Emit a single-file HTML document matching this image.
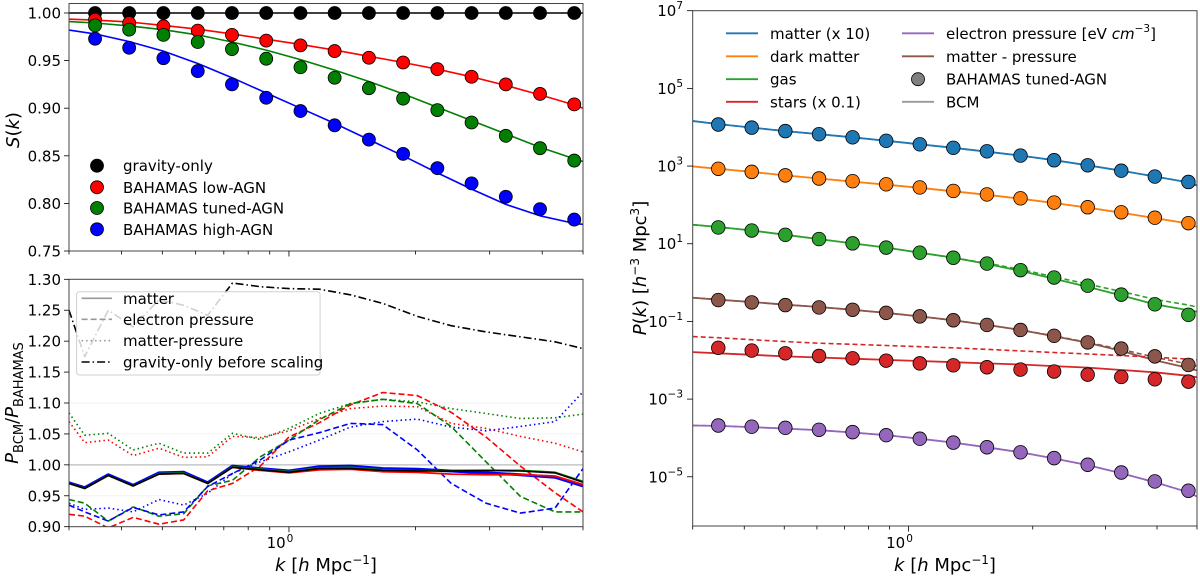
<!DOCTYPE html>
<html><head><meta charset="utf-8"><style>
html,body{margin:0;padding:0;background:#fff;}
svg{display:block;font-family:"DejaVu Sans","Liberation Sans",sans-serif;}
</style></head><body>
<svg id="fig" width="1200" height="579" viewBox="0 0 1200 579" xmlns="http://www.w3.org/2000/svg"></svg>
<script>
// ---------- data ----------
const kVals = [0.346,0.417,0.503,0.607,0.732,0.883,1.065,1.284,1.549,1.868,2.253,2.717,3.277,3.952,4.766];
const sRed   = [0.993,0.9895,0.986,0.9815,0.977,0.971,0.966,0.960,0.953,0.948,0.941,0.933,0.925,0.915,0.904];
const sGreen = [0.987,0.9825,0.977,0.9695,0.962,0.952,0.943,0.932,0.921,0.910,0.898,0.885,0.871,0.858,0.845];
const sBlue  = [0.973,0.9635,0.9525,0.939,0.925,0.911,0.897,0.882,0.867,0.852,0.837,0.821,0.807,0.794,0.783];
const lineK = [0.3,0.346,0.417,0.503,0.607,0.732,0.883,1.065,1.284,1.549,1.868,2.253,2.717,3.277,3.952,4.766,5.0];
const fitRed   = [0.9935,0.9925,0.9905,0.987,0.983,0.978,0.9725,0.967,0.961,0.9545,0.948,0.941,0.933,0.924,0.914,0.9035,0.900];
const fitGreen = [0.991,0.9895,0.9865,0.9825,0.977,0.9695,0.961,0.951,0.940,0.928,0.915,0.901,0.887,0.873,0.859,0.847,0.844];
const fitBlue  = [0.982,0.978,0.970,0.960,0.947,0.932,0.916,0.900,0.884,0.867,0.850,0.832,0.815,0.799,0.787,0.779,0.778];

const binK = [0.300,0.327,0.372,0.426,0.491,0.562,0.641,0.734,0.855,1.0,1.18,1.40,1.67,2.02,2.43,2.94,3.55,4.29,5.0];
const rBlackSolid = [0.970,0.962,0.983,0.966,0.985,0.986,0.970,0.996,0.992,0.988,0.994,0.994,0.991,0.990,0.990,0.991,0.990,0.987,0.972];
const rBlueSolid  = [0.971,0.963,0.984,0.967,0.987,0.988,0.971,0.998,0.994,0.990,0.997,0.998,0.994,0.993,0.990,0.987,0.984,0.980,0.966];
const rRedSolid   = [0.970,0.962,0.983,0.966,0.985,0.986,0.970,0.996,0.991,0.987,0.992,0.993,0.989,0.988,0.985,0.984,0.984,0.982,0.968];
const rGreenSolid = [0.970,0.962,0.983,0.966,0.986,0.987,0.970,0.997,0.993,0.989,0.995,0.996,0.992,0.990,0.991,0.991,0.991,0.988,0.973];
const rRedDash   = [0.920,0.917,0.898,0.915,0.904,0.911,0.958,0.970,0.998,1.045,1.068,1.097,1.117,1.112,1.085,1.045,0.998,0.955,0.924];
const rGreenDash = [0.944,0.938,0.909,0.932,0.917,0.921,0.966,0.975,1.013,1.040,1.073,1.099,1.106,1.099,1.062,1.005,0.949,0.924,0.924];
const rBlueDash  = [0.935,0.924,0.909,0.931,0.919,0.924,0.965,0.986,1.008,1.040,1.052,1.067,1.065,1.024,0.970,0.938,0.922,0.930,0.994];
const rGreenDot  = [1.084,1.048,1.051,1.024,1.035,1.019,1.019,1.051,1.041,1.059,1.083,1.099,1.106,1.102,1.091,1.083,1.075,1.076,1.082];
const rRedDot    = [1.070,1.036,1.040,1.015,1.027,1.012,1.013,1.046,1.044,1.055,1.075,1.091,1.095,1.094,1.067,1.059,1.046,1.035,1.021];
const rBlueDot   = [0.938,0.928,0.930,0.924,0.944,0.935,0.954,0.986,1.005,1.021,1.040,1.061,1.070,1.074,1.061,1.055,1.062,1.070,1.118];
const rGravBefore= [1.250,1.175,1.250,1.223,1.267,1.258,1.242,1.294,1.288,1.285,1.284,1.275,1.261,1.240,1.225,1.215,1.207,1.199,1.188];

// right panel, log10 P(k)
const pMatter = [4.07,3.99,3.90,3.82,3.74,3.65,3.56,3.47,3.38,3.27,3.15,3.02,2.88,2.73,2.59];
const pDM     = [2.93,2.85,2.76,2.68,2.61,2.53,2.45,2.36,2.27,2.17,2.06,1.94,1.81,1.67,1.53];
const pGas    = [1.42,1.34,1.23,1.12,1.01,0.90,0.77,0.64,0.49,0.32,0.13,-0.08,-0.31,-0.56,-0.83];
const pMP     = [-0.45,-0.51,-0.58,-0.64,-0.70,-0.78,-0.87,-0.97,-1.09,-1.22,-1.37,-1.54,-1.70,-1.90,-2.12];
const pStars  = [-1.68,-1.75,-1.82,-1.89,-1.95,-2.01,-2.08,-2.13,-2.18,-2.24,-2.29,-2.37,-2.43,-2.49,-2.55];
const pPress  = [-3.68,-3.71,-3.74,-3.79,-3.85,-3.93,-4.02,-4.12,-4.24,-4.37,-4.52,-4.69,-4.89,-5.12,-5.36];
const bMatter = [4.16,4.08,3.99,3.90,3.82,3.74,3.65,3.56,3.47,3.37,3.27,3.15,3.02,2.88,2.73,2.58,2.50];
const bDM     = [2.99,2.93,2.85,2.76,2.68,2.60,2.52,2.44,2.35,2.26,2.16,2.05,1.93,1.80,1.66,1.52,1.43];
const bGas    = [1.49,1.43,1.34,1.23,1.12,1.01,0.90,0.77,0.64,0.48,0.30,0.10,-0.11,-0.33,-0.56,-0.71,-0.75];
const bGasDash= [1.49,1.43,1.34,1.23,1.12,1.01,0.90,0.77,0.64,0.50,0.34,0.15,-0.04,-0.23,-0.43,-0.58,-0.63];
const bMP     = [-0.39,-0.44,-0.50,-0.57,-0.63,-0.70,-0.78,-0.87,-0.97,-1.09,-1.22,-1.38,-1.55,-1.76,-2.00,-2.20,-2.26];
const bMPDash = [-0.39,-0.44,-0.50,-0.57,-0.63,-0.70,-0.78,-0.87,-0.97,-1.09,-1.22,-1.37,-1.54,-1.72,-1.92,-2.10,-2.15];
const bStars  = [-1.79,-1.82,-1.86,-1.90,-1.93,-1.96,-1.99,-2.02,-2.05,-2.08,-2.11,-2.15,-2.19,-2.25,-2.31,-2.40,-2.44];
const bStarsDash=[-1.39,-1.42,-1.47,-1.52,-1.56,-1.59,-1.62,-1.65,-1.68,-1.72,-1.76,-1.80,-1.84,-1.88,-1.92,-1.97,-1.99];
const bPress  = [-3.68,-3.69,-3.72,-3.76,-3.80,-3.86,-3.93,-4.02,-4.12,-4.24,-4.37,-4.53,-4.70,-4.91,-5.14,-5.40,-5.51];

const leftYTicks = ["0.75","0.80","0.85","0.90","0.95","1.00"];
const bottomYTicks = ["0.90","0.95","1.00","1.05","1.10","1.15","1.20","1.25","1.30"];
const rightYTickExp = [7,5,3,1,-1,-3,-5];

// ---------- helpers ----------
const NS="http://www.w3.org/2000/svg";
const svg=document.getElementById('fig');
function mk(tag,attrs,parent){const e=document.createElementNS(NS,tag);for(const k in attrs)e.setAttribute(k,attrs[k]);(parent||svg).appendChild(e);return e;}
const KMIN=0.3,KMAX=5.0;
function xScale(x0,x1){return k=>x0+(Math.log10(k)-Math.log10(KMIN))/(Math.log10(KMAX)-Math.log10(KMIN))*(x1-x0);}
const xL=xScale(69,583), xR=xScale(692.7,1197);
const yTop=v=>251-(v-0.75)*952;
const yBot=v=>526.7-(v-0.90)*618.5;
const yRight=lv=>10.7+(7-lv)*38.84;
function pathD(xs,ys,xf,yf){return xs.map((k,i)=>(i?'L':'M')+xf(k).toFixed(1)+','+yf(ys[i]).toFixed(1)).join(' ');}
function line(xs,ys,xf,yf,color,w,dash,name,g){const p=mk('path',{d:pathD(xs,ys,xf,yf),fill:'none',stroke:color,'stroke-width':w,'stroke-linejoin':'round'},g);if(dash)p.setAttribute('stroke-dasharray',dash);


return p;}
function text(x,y,s,opts,g){const t=mk('text',Object.assign({x:x,y:y,'font-size':15,fill:'#000'},opts||{}),g);t.textContent=s;return t;}

const defs=mk('defs',{});
mk('rect',{x:69,y:0,width:514,height:252},mk('clipPath',{id:'cTop'},defs));
mk('rect',{x:69,y:279,width:514,height:248},mk('clipPath',{id:'cBot'},defs));
mk('rect',{x:693,y:10.7,width:504,height:515.3},mk('clipPath',{id:'cRight'},defs));

function xTicks(xf,yb,labelY){
  const minors=[0.3,0.4,0.5,0.6,0.7,0.8,0.9,2,3,4,5];
  minors.forEach(k=>{const t=mk('line',{x1:xf(k),x2:xf(k),y1:yb,y2:yb+3.5,stroke:'#000','stroke-width':0.8});
    
    });
  const t=mk('line',{x1:xf(1),x2:xf(1),y1:yb,y2:yb+5.5,stroke:'#000','stroke-width':0.8});
  
  
  if(labelY){const l=text(xf(1)-9,labelY,'10',{'text-anchor':'middle'});
    const sup=mk('tspan',{dx:1,dy:-6,'font-size':10.5},l);sup.textContent='0';
    
    }
}
function frame(x,y,w,h,name){const r=mk('rect',{x:x,y:y,width:w,height:h,fill:'none',stroke:'#444','stroke-width':1});
  
  }
function marker(cx,cy,r,fill,name,g){const c=mk('circle',{cx:cx,cy:cy,r:r,fill:fill,stroke:'#000','stroke-width':0.8},g);
  
  }

// ---------- top-left panel ----------
const gTop=mk('g',{'clip-path':'url(#cTop)'});


line([0.3,5],[1,1],xL,yTop,'#000',1.6,null,'gravity-only-line',gTop);
line(lineK,fitRed,xL,yTop,'#ff0000',1.6,null,'low-agn-fit-line',gTop);
line(lineK,fitGreen,xL,yTop,'#008000',1.6,null,'tuned-agn-fit-line',gTop);
line(lineK,fitBlue,xL,yTop,'#0000ff',1.6,null,'high-agn-fit-line',gTop);
kVals.forEach((k,i)=>{
  marker(xL(k),yTop(1.0),6.5,'#000','gravity-only-point',gTop);
  marker(xL(k),yTop(sRed[i]),6.5,'#ff0000','low-agn-point',gTop);
  marker(xL(k),yTop(sGreen[i]),6.5,'#008000','tuned-agn-point',gTop);
  marker(xL(k),yTop(sBlue[i]),6.5,'#0000ff','high-agn-point',gTop);
});
frame(69,3.5,514,247.5,'suppression-axes-frame');
leftYTicks.forEach(s=>{const v=parseFloat(s),y=yTop(v);
  const t=mk('line',{x1:64,x2:69,y1:y,y2:y,stroke:'#000','stroke-width':0.8});
  
  
  const l=text(61,y+5.5,s,{'text-anchor':'end'});
  
  });
xTicks(xL,251,null);
{const l=text(0,0,'',{'font-size':18,transform:'translate(19,130) rotate(-90)','text-anchor':'middle'});
 l.innerHTML='<tspan font-style="italic">S</tspan>(<tspan font-style="italic">k</tspan>)';
 
 }
[['gravity-only','#000'],['BAHAMAS low-AGN','#ff0000'],['BAHAMAS tuned-AGN','#008000'],['BAHAMAS high-AGN','#0000ff']].forEach((e,i)=>{
  const y=[165.7,187.3,208,229.3][i];
  const g=mk('g',{});
  
  
  marker(97,y,6.5,e[1],'legend-marker',g);
  text(123,y+5.5,e[0],{},g);
});

// ---------- bottom-left panel ----------
const gBot=mk('g',{'clip-path':'url(#cBot)'});


[0.95,1.05,1.10].forEach(v=>{mk('line',{x1:69,x2:583,y1:yBot(v),y2:yBot(v),stroke:'#f2f2f2','stroke-width':1},gBot);});
line([0.3,5],[1,1],xL,yBot,'#bbbbbb',1.2,null,'unity-line',gBot);
line(binK,rRedDot,xL,yBot,'#ff0000',1.6,'1.5,3','red-matter-pressure',gBot);
line(binK,rGreenDot,xL,yBot,'#008000',1.6,'1.5,3','green-matter-pressure',gBot);
line(binK,rBlueDot,xL,yBot,'#0000ff',1.6,'1.5,3','blue-matter-pressure',gBot);
line(binK,rRedDash,xL,yBot,'#ff0000',1.6,'6,3','red-electron-pressure',gBot);
line(binK,rGreenDash,xL,yBot,'#008000',1.6,'6,3','green-electron-pressure',gBot);
line(binK,rBlueDash,xL,yBot,'#0000ff',1.6,'6,3','blue-electron-pressure',gBot);
line(binK,rBlueSolid,xL,yBot,'#0000ff',3,null,'blue-matter-ratio',gBot);
line(binK,rRedSolid,xL,yBot,'#ff0000',1.8,null,'red-matter-ratio',gBot);
line(binK,rGreenSolid,xL,yBot,'#008000',1.8,null,'green-matter-ratio',gBot);
line(binK,rBlackSolid,xL,yBot,'#000',1.6,null,'black-matter-ratio',gBot);
line(binK,rGravBefore,xL,yBot,'#000',1.6,'8,3,1.5,3','gravity-only-before-scaling',gBot);
frame(69,279.3,514,247.4,'ratio-axes-frame');
bottomYTicks.forEach(s=>{const v=parseFloat(s),y=yBot(v);
  const t=mk('line',{x1:64,x2:69,y1:y,y2:y,stroke:'#000','stroke-width':0.8});
  
  
  const l=text(61,y+5.5,s,{'text-anchor':'end'});
  
  });
xTicks(xL,526.7,548);
{const l=text(0,0,'',{'font-size':18,transform:'translate(18,403) rotate(-90)','text-anchor':'middle'});
 l.innerHTML='<tspan font-style="italic">P</tspan><tspan font-size="13" dy="5">BCM</tspan><tspan dy="-5">/</tspan><tspan font-style="italic">P</tspan><tspan font-size="13" dy="5">BAHAMAS</tspan>';
 
 }
{const l=text(326,571,'',{'font-size':18,'text-anchor':'middle'});
 l.innerHTML='<tspan font-style="italic">k</tspan> [<tspan font-style="italic">h</tspan> Mpc<tspan font-size="12" dy="-7">−1</tspan><tspan dy="7">]</tspan>';
 
 }
{const lg=mk('g',{});
 
 
 mk('rect',{x:76.6,y:291.7,width:243.5,height:83.3,rx:3,fill:'rgba(255,255,255,0.82)',stroke:'#d0d0d0','stroke-width':1},lg);
 [['matter',null],['electron pressure','6,3'],['matter-pressure','1.5,3'],['gravity-only before scaling','8,3,1.5,3']].forEach((e,i)=>{
   const y=[298.3,319.3,340.7,362][i];
   const g=mk('g',{},lg);
   
   
   const ln=mk('line',{x1:81.6,x2:112,y1:y,y2:y,stroke:i==3?'#000':'#999','stroke-width':1.6},g);
   if(e[1])ln.setAttribute('stroke-dasharray',e[1]);
   text(123,y+5.5,e[0],{},g);
 });}

// ---------- right panel ----------
const gR=mk('g',{'clip-path':'url(#cRight)'});


const series=[
 ['matter',pMatter,bMatter,bMatter,'#1f77b4'],
 ['dark-matter',pDM,bDM,bDM,'#ff7f0e'],
 ['gas',pGas,bGas,bGasDash,'#2ca02c'],
 ['matter-pressure',pMP,bMP,bMPDash,'#8c564b'],
 ['stars',pStars,bStars,bStarsDash,'#d62728'],
 ['electron-pressure',pPress,bPress,bPress,'#9467bd']];
series.forEach(s=>{
  line(lineK,s[3],xR,yRight,s[4],1.6,'5,3',s[0]+'-bcm-dashed',gR);
  line(lineK,s[2],xR,yRight,s[4],1.8,null,s[0]+'-bcm-line',gR);
});
series.forEach(s=>{kVals.forEach((k,i)=>marker(xR(k),yRight(s[1][i]),6.8,s[4],s[0]+'-bahamas-point',gR));});
frame(692.7,10.7,504.3,515.3,'power-axes-frame');
rightYTickExp.forEach(e=>{const y=yRight(e);
  const t=mk('line',{x1:687,x2:692.7,y1:y,y2:y,stroke:'#000','stroke-width':0.8});
  
  
  const l=text(683,y+5.5,'',{'text-anchor':'end'});
  l.innerHTML='10<tspan font-size="10.5" dy="-7">'+(e<0?'−'+(-e):e)+'</tspan>';
  
  });
xTicks(xR,526,548);
{const l=text(0,0,'',{'font-size':18,transform:'translate(646,268) rotate(-90)','text-anchor':'middle'});
 l.innerHTML='<tspan font-style="italic">P</tspan>(<tspan font-style="italic">k</tspan>) [<tspan font-style="italic">h</tspan><tspan font-size="12" dy="-7">−3</tspan><tspan dy="7"> Mpc</tspan><tspan font-size="12" dy="-7">3</tspan><tspan dy="7">]</tspan>';
 
 }
{const l=text(945,571,'',{'font-size':18,'text-anchor':'middle'});
 l.innerHTML='<tspan font-style="italic">k</tspan> [<tspan font-style="italic">h</tspan> Mpc<tspan font-size="12" dy="-7">−1</tspan><tspan dy="7">]</tspan>';
 
 }
const legR=[
 [726,33.3,'line','#1f77b4','matter (x 10)'],
 [726,56.3,'line','#ff7f0e','dark matter'],
 [726,79.2,'line','#2ca02c','gas'],
 [726,101.8,'line','#d62728','stars (x 0.1)'],
 [902,33.3,'line','#9467bd','electron pressure [eV <tspan font-style="italic">cm</tspan><tspan font-size="10.5" dy="-7">−3</tspan><tspan dy="7">]</tspan>'],
 [902,56.3,'line','#8c564b','matter - pressure'],
 [902,79.2,'dot','#808080','BAHAMAS tuned-AGN'],
 [902,101.8,'line','#999999','BCM']];
legR.forEach(e=>{const g=mk('g',{});
  
  
  if(e[2]=='line')mk('line',{x1:e[0],x2:e[0]+32,y1:e[1],y2:e[1],stroke:e[3],'stroke-width':1.8},g);
  else marker(e[0]+16,e[1],6.5,e[3],'legend-marker',g);
  const t=text(e[0]+44,e[1]+5.5,'',{},g);t.innerHTML=e[4];});
</script>
</body></html>
